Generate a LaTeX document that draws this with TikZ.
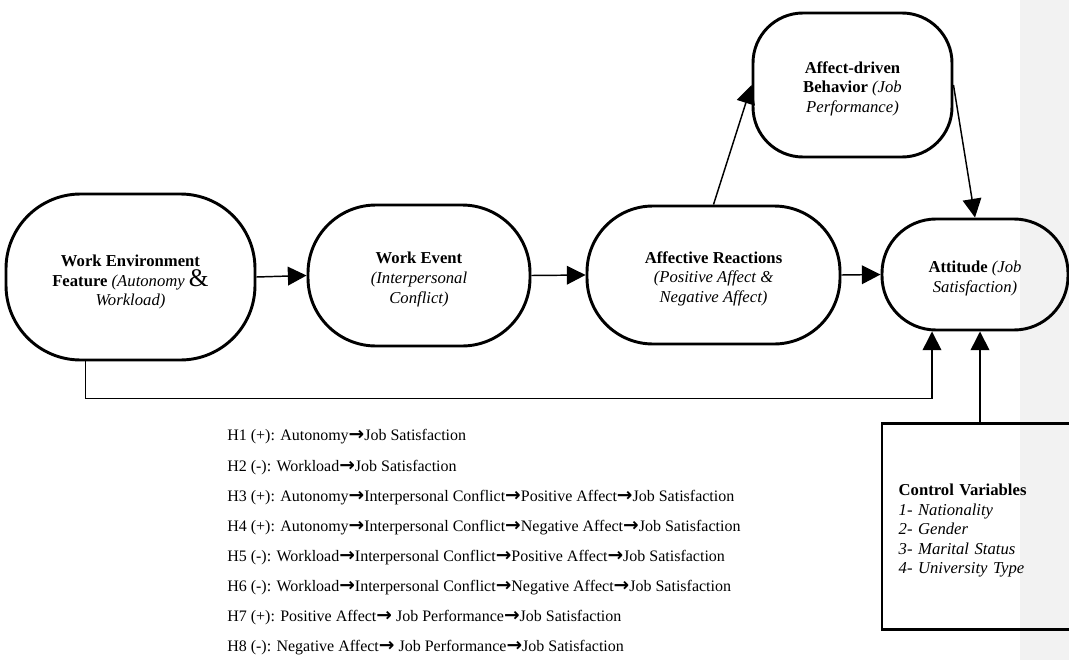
\documentclass[tikz,border=0pt]{standalone}
\usepackage{fontspec}
\setmainfont{Liberation Serif}
\newfontfamily\arrowfont{DejaVu Sans}
\usepackage{tikz}
\usetikzlibrary{
  arrows.meta,
  positioning,
  calc
}
\definecolor{StripGray}{HTML}{F2F2F2}
% Bold arrow used inside the hypotheses
\newcommand{\hto}{{\arrowfont\bfseries\fontsize{14}{14}\selectfont →}}
\tikzset{
  % Construct box: rounded ends, size given per node
  stage/.style={
    rectangle, rounded corners=#1,
    draw=black, line width=2.2pt,
    align=center, inner sep=2pt,
    font=\fontsize{12.5}{14.8}\selectfont
  },
  % Control variables box
  ctrl/.style={
    rectangle, draw=black, line width=2.2pt,
    minimum width=147pt, minimum height=155pt,
    text width=122pt, align=left, text height=15pt,
    font=\fontsize{12.5}{14.6}\selectfont
  },
  % Arrow
  arr/.style={
    -{Triangle[length=14pt,width=14pt]},
    line width=1.1pt, color=black
  },
  % Hypothesis line
  hyp/.style={anchor=west, inner sep=0pt, font=\fontsize{12}{14}\selectfont}
}
\begin{document}
\begin{tikzpicture}[x=0.75pt, y=-0.75pt]

  \useasboundingbox (0,0) rectangle (1069,660);
  \fill[StripGray] (1020,0) rectangle (1069,660);

  % Main chain
  \node[stage=56pt, minimum width=186.75pt, minimum height=124.5pt, text height=46pt] (env) at (130.5,277)
    {\textbf{Work Environment}\\\textbf{Feature} \textit{(Autonomy} {\fontsize{19}{19}\selectfont\&}\\\textit{Workload)}};
  \node[stage=51pt, minimum width=166.5pt, minimum height=105.75pt, text height=44pt] (event) at (419,275.5)
    {\textbf{Work Event}\\\textit{(Interpersonal}\\\textit{Conflict)}};
  \node[stage=49.5pt, minimum width=189.75pt, minimum height=103.5pt, text height=44pt] (affect) at (713.5,275)
    {\textbf{Affective Reactions}\\\textit{(Positive Affect \&}\\\textit{Negative Affect)}};
  \node[stage=40.5pt, minimum width=139.5pt, minimum height=83.25pt, text height=29pt] (attitude) at (975,274.5)
    {\textbf{Attitude} \textit{(Job}\\\textit{Satisfaction)}};
  \node[stage=37.5pt, minimum width=149.25pt, minimum height=108pt, text height=44pt] (behav) at (852.5,85)
    {\textbf{Affect-driven}\\\textbf{Behavior} \textit{(Job}\\\textit{Performance)}};

  % Control variables
  \node[ctrl] (control) at (980,526.5)
    {\textbf{Control Variables}\\\textit{1- Nationality}\\\textit{2- Gender}\\\textit{3- Marital Status}\\\textit{4- University Type}};

  % Hypotheses
  \node[hyp] (h1) at (227,437) {H1 (+): Autonomy\hto Job Satisfaction};
  \node[hyp, below=22.6pt of h1.west, anchor=west] (h2) {H2 (-): Workload\hto Job Satisfaction};
  \node[hyp, below=22.6pt of h2.west, anchor=west] (h3) {H3 (+): Autonomy\hto Interpersonal Conflict\hto Positive Affect\hto Job Satisfaction};
  \node[hyp, below=22.6pt of h3.west, anchor=west] (h4) {H4 (+): Autonomy\hto Interpersonal Conflict\hto Negative Affect\hto Job Satisfaction};
  \node[hyp, below=22.6pt of h4.west, anchor=west] (h5) {H5 (-): Workload\hto Interpersonal Conflict\hto Positive Affect\hto Job Satisfaction};
  \node[hyp, below=22.6pt of h5.west, anchor=west] (h6) {H6 (-): Workload\hto Interpersonal Conflict\hto Negative Affect\hto Job Satisfaction};
  \node[hyp, below=22.6pt of h6.west, anchor=west] (h7) {H7 (+): Positive Affect\hto\ Job Performance\hto Job Satisfaction};
  \node[hyp, below=22.6pt of h7.west, anchor=west] (h8) {H8 (-): Negative Affect\hto\ Job Performance\hto Job Satisfaction};

  \draw[arr] (env.east)      -- (event.west);
  \draw[arr] (event.east)    -- (affect.west);
  \draw[arr] (affect.east)   -- (attitude.west);
  \draw[arr] (affect.north)  -- (behav.west);
  \draw[arr] (behav.east)    -- (attitude.north);
  \draw[arr] ($(env.south)+(-45,0)$) -- ++(0,37) -| ($(attitude.south)+(-43,0)$);
  \draw[arr] (control.north) -- (control.north |- attitude.south);

\end{tikzpicture}
\end{document}
